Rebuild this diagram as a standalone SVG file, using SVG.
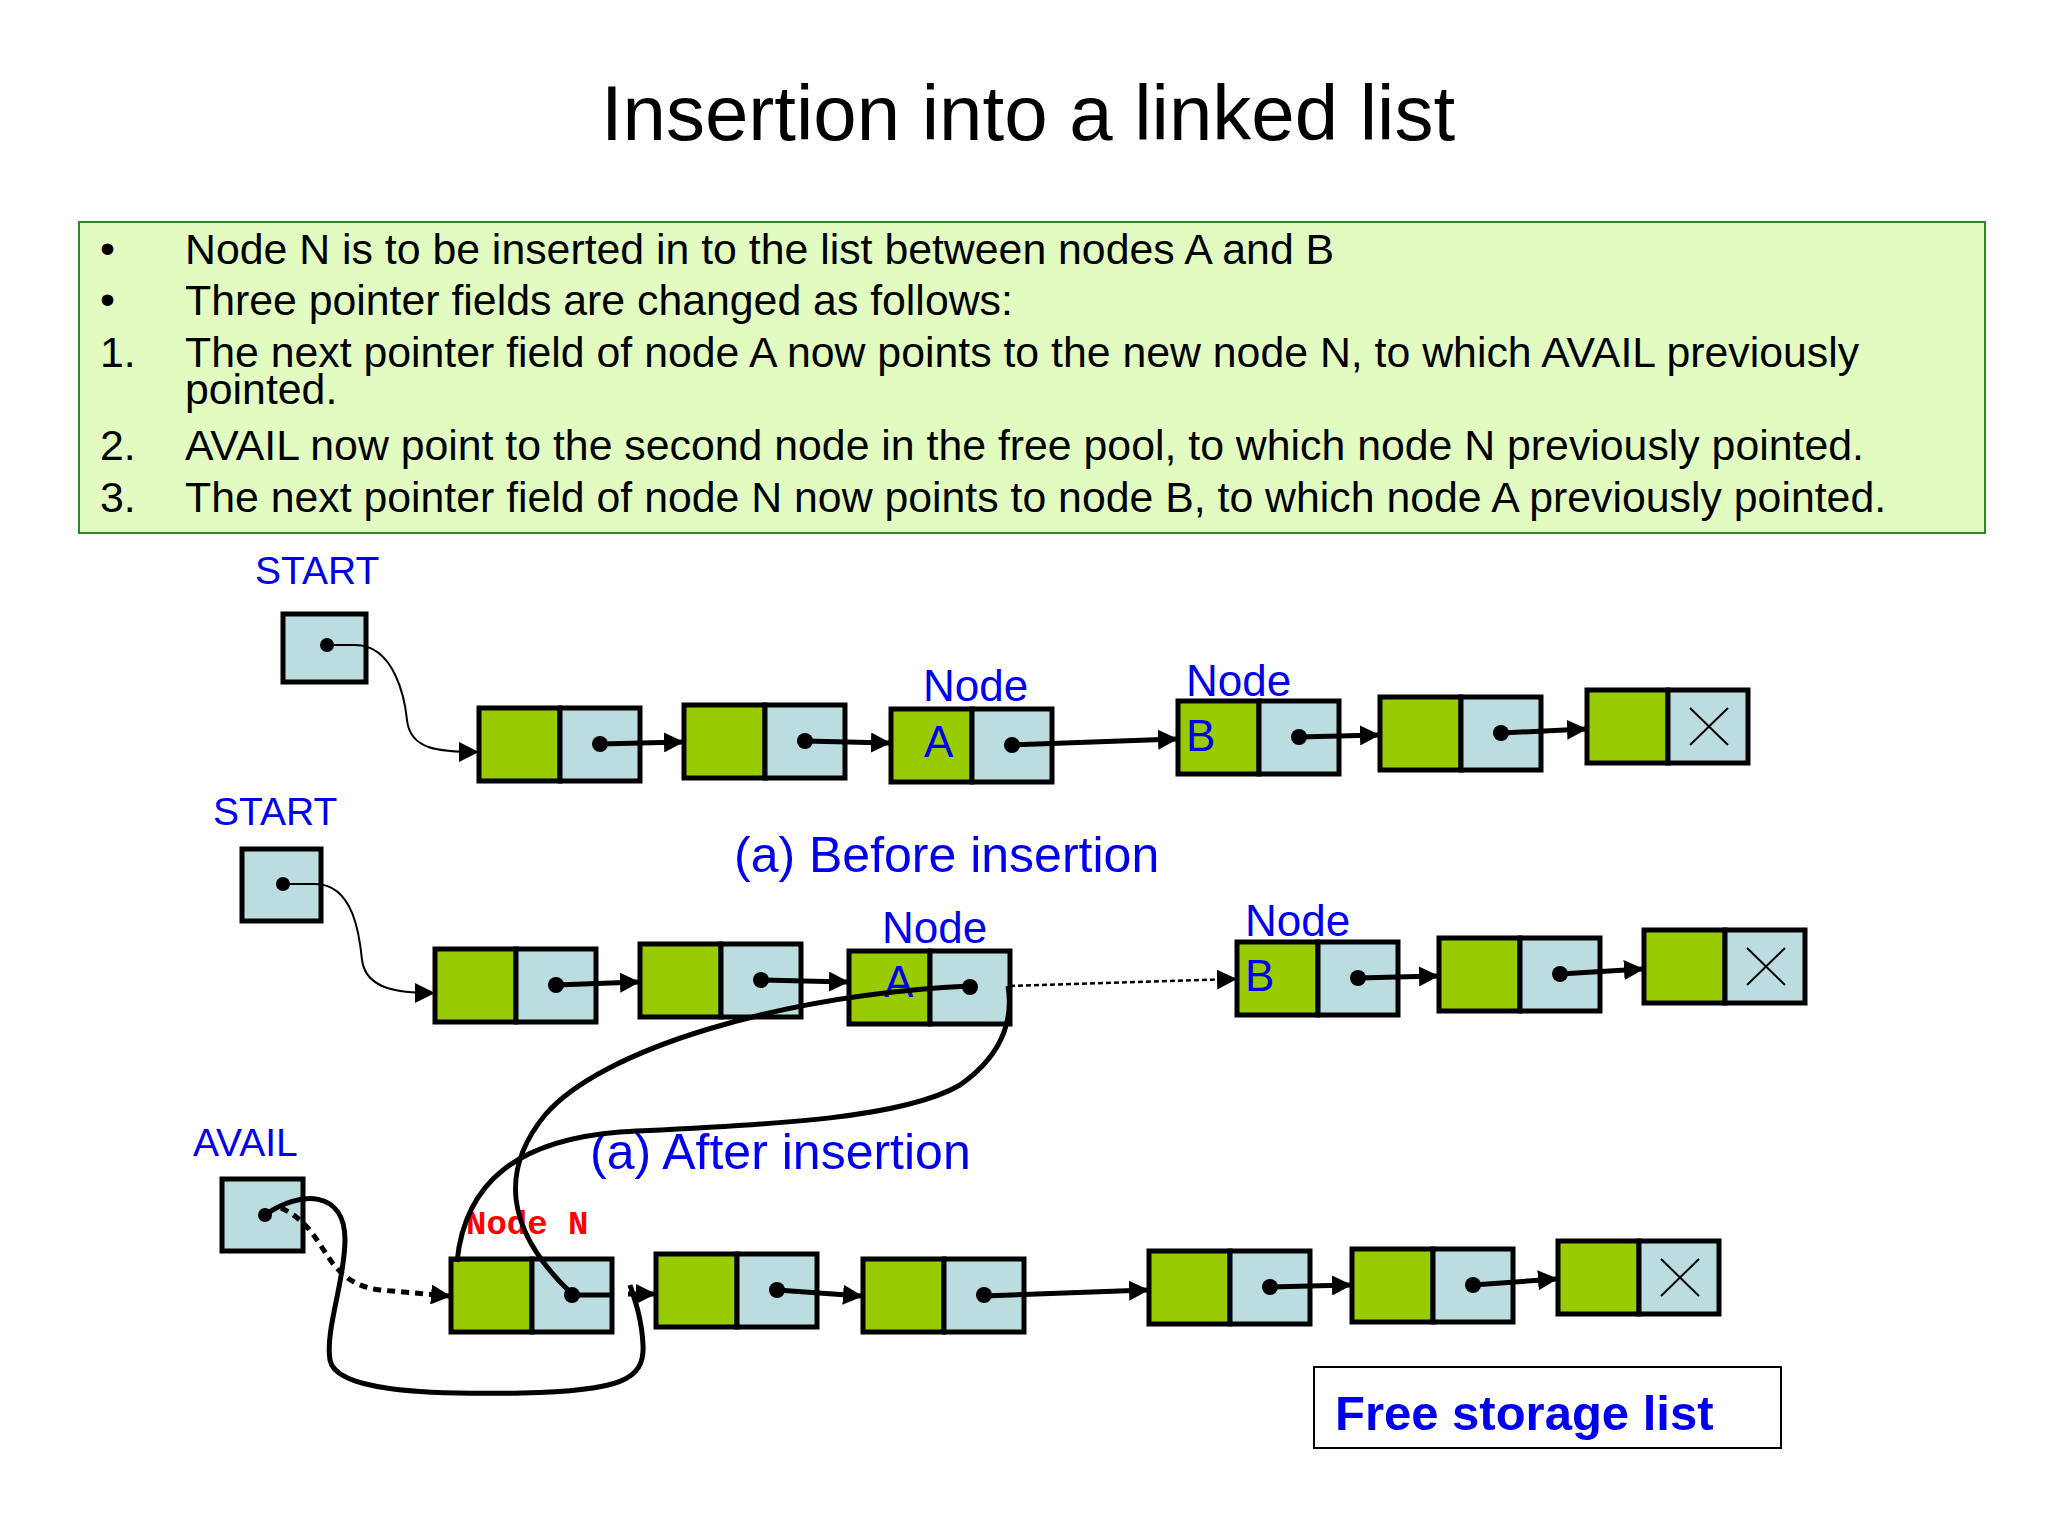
<svg xmlns="http://www.w3.org/2000/svg" width="2048" height="1536" viewBox="0 0 2048 1536">
<style>
.g{fill:#99cc00;stroke:#000;stroke-width:5}
.b{fill:#bbdde0;stroke:#000;stroke-width:5}
.t{font-family:"Liberation Sans",Arial,sans-serif;font-size:42.8px;fill:#000}
.bl{font-family:"Liberation Sans",Arial,sans-serif;fill:#0000ee}
.c{fill:none;stroke:#000}
.x{stroke:#000;stroke-width:2}
</style>
<defs>
<marker id="ah" markerUnits="userSpaceOnUse" markerWidth="20" markerHeight="20" refX="18" refY="10" orient="auto"><path d="M0,0 L20,10 L0,20 z" fill="#000"/></marker>
<g id="nd"><rect class="g" x="0" y="0" width="81" height="73"/><rect class="b" x="81" y="0" width="80" height="73"/></g>
<g id="ndd"><use href="#nd"/><circle cx="121" cy="36" r="8"/></g>
<g id="ndx"><use href="#nd"/><line class="x" x1="103" y1="18" x2="141" y2="55"/><line class="x" x1="141" y1="18" x2="103" y2="55"/></g>
</defs>
<rect width="2048" height="1536" fill="#fff"/>
<text x="1028" y="140" text-anchor="middle" font-family="Liberation Sans,Arial,sans-serif" font-size="78">Insertion into a linked list</text>
<rect x="79" y="222" width="1906" height="311" fill="#e2fbc0" stroke="#2a8a2a" stroke-width="2"/>
<g class="t">
<text x="100" y="263">•</text><text x="185" y="264">Node N is to be inserted in to the list between nodes A and B</text>
<text x="100" y="314">•</text><text x="185" y="315">Three pointer fields are changed as follows:</text>
<text x="100" y="367">1.</text><text x="185" y="367">The next pointer field of node A now points to the new node N, to which AVAIL previously</text>
<text x="185" y="404">pointed.</text>
<text x="100" y="460">2.</text><text x="185" y="460">AVAIL now point to the second node in the free pool, to which node N previously pointed.</text>
<text x="100" y="512">3.</text><text x="185" y="512">The next pointer field of node N now points to node B, to which node A previously pointed.</text>
</g>
<g class="bl" font-size="39">
<text x="255" y="584">START</text><text x="213" y="825">START</text><text x="193" y="1156">AVAIL</text>
</g>
<g class="bl" font-size="50">
<text x="734" y="872">(a) Before insertion</text>
</g>
<text x="466" y="1234" font-family="Liberation Mono,Courier New,monospace" font-weight="bold" font-size="34" fill="#ff0000">Node N</text>
<g id="start1"><rect class="b" x="283" y="614" width="83" height="68"/><circle cx="327" cy="645" r="7"/></g>
<g id="start2"><rect class="b" x="242" y="849" width="79" height="72"/><circle cx="283" cy="884" r="7"/></g>
<g id="avail"><rect class="b" x="222" y="1179" width="81" height="72"/><circle cx="265" cy="1215" r="7"/></g>
<g id="r1n1"><use href="#ndd" x="479" y="708"/></g>
<g id="r1n2"><use href="#ndd" x="684" y="705"/></g>
<g id="r1A"><use href="#ndd" x="891" y="709"/></g>
<g id="r1B"><use href="#ndd" x="1178" y="701"/></g>
<g id="r1n5"><use href="#ndd" x="1380" y="697"/></g>
<g id="r1n6"><use href="#ndx" x="1587" y="690"/></g>
<g id="r2n1"><use href="#ndd" x="435" y="949"/></g>
<g id="r2n2"><use href="#ndd" x="640" y="944"/></g>
<g id="r2A"><use href="#ndd" x="849" y="951"/></g>
<g id="r2B"><use href="#ndd" x="1237" y="942"/></g>
<g id="r2n5"><use href="#ndd" x="1439" y="938"/></g>
<g id="r2n6"><use href="#ndx" x="1644" y="930"/></g>
<g id="r3N"><use href="#ndd" x="451" y="1259"/></g>
<g id="r3n2"><use href="#ndd" x="656" y="1254"/></g>
<g id="r3n3"><use href="#ndd" x="863" y="1259"/></g>
<g id="r3n4"><use href="#ndd" x="1149" y="1251"/></g>
<g id="r3n5"><use href="#ndd" x="1352" y="1249"/></g>
<g id="r3n6"><use href="#ndx" x="1558" y="1241"/></g>
<g class="bl" font-size="44">
<text x="923" y="701">Node</text><text x="1186" y="696">Node</text>
<text x="882" y="943">Node</text><text x="1245" y="936">Node</text>
<text x="924" y="757">A</text><text x="1186" y="751">B</text>
<text x="884" y="997">A</text><text x="1245" y="991">B</text>
</g>
<g id="free"><rect x="1314" y="1367" width="467" height="81" fill="#fff" stroke="#000" stroke-width="2"/>
<text x="1335" y="1430" class="bl" font-size="49" font-weight="bold">Free storage list</text></g>
<text x="590" y="1169" class="bl" font-size="50">(a) After insertion</text>
<g id="connectors" class="c" stroke-width="5">
<path d="M327,645 L355,645 C395,645 405,700 407,720 C410,750 440,752 477,752" stroke-width="2" marker-end="url(#ah)"/>
<path d="M283,884 L315,884 C355,884 360,940 362,960 C366,990 400,993 433,993" stroke-width="2" marker-end="url(#ah)"/>
<line x1="600" y1="744" x2="682" y2="742" marker-end="url(#ah)"/>
<line x1="805" y1="741" x2="889" y2="743" marker-end="url(#ah)"/>
<line x1="1012" y1="745" x2="1176" y2="739" marker-end="url(#ah)"/>
<line x1="1299" y1="737" x2="1378" y2="735" marker-end="url(#ah)"/>
<line x1="1501" y1="733" x2="1585" y2="729" marker-end="url(#ah)"/>
<line x1="556" y1="985" x2="638" y2="982" marker-end="url(#ah)"/>
<line x1="761" y1="980" x2="847" y2="982" marker-end="url(#ah)"/>
<line x1="1358" y1="978" x2="1437" y2="976" marker-end="url(#ah)"/>
<line x1="1560" y1="974" x2="1642" y2="969" marker-end="url(#ah)"/>
<line x1="1010" y1="986" x2="1235" y2="979" stroke-width="2.5" stroke-dasharray="5,3" marker-end="url(#ah)"/>
<line x1="777" y1="1290" x2="861" y2="1296" marker-end="url(#ah)"/>
<line x1="984" y1="1296" x2="1147" y2="1290" marker-end="url(#ah)"/>
<line x1="1270" y1="1287" x2="1350" y2="1285" marker-end="url(#ah)"/>
<line x1="1473" y1="1285" x2="1556" y2="1279" marker-end="url(#ah)"/>
<line x1="572" y1="1295" x2="612" y2="1295"/>
<line x1="628" y1="1294" x2="654" y2="1294" marker-end="url(#ah)"/>
<path d="M970,986 C780,995 600,1050 545,1115 C500,1170 505,1230 571,1293"/>
<path d="M457,1262 C465,1180 520,1140 620,1132 C760,1125 900,1120 960,1085 C1010,1050 1012,1010 1008,986"/>
<path d="M265,1215 C300,1190 345,1190 345,1240 C345,1280 325,1330 330,1360 C335,1390 420,1395 522,1393 C620,1391 645,1380 643,1345 C642,1320 635,1300 630,1285"/>
<path d="M281,1208 C330,1230 320,1282 380,1290 L449,1296" stroke-dasharray="8,6" marker-end="url(#ah)"/>
</g>
</svg>
